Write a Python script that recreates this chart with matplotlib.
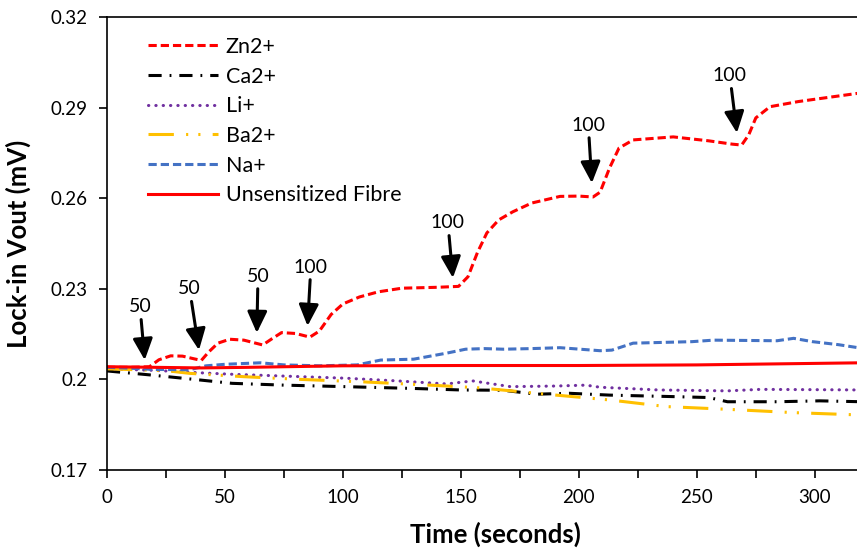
import matplotlib
matplotlib.use("Agg")
import matplotlib.pyplot as plt
from matplotlib.ticker import MultipleLocator, FuncFormatter

plt.rcParams['font.family'] = ['Lato', 'DejaVu Sans']

# ---- data ----
zn_t = [0, 10, 18, 22, 27, 32, 37, 40, 43, 47, 52, 58, 66, 70, 74, 80, 86, 90, 95, 100, 107, 115, 125, 140, 149,
        153, 157, 161, 166, 172, 180, 192, 200, 206, 209, 213, 217, 223, 240, 255, 265, 269, 272, 275, 281, 293,
        305, 318, 320]
zn_v = [0.2040, 0.2040, 0.2042, 0.2065, 0.2078, 0.2077, 0.2068, 0.2063, 0.2090, 0.2120, 0.2133, 0.2130, 0.2114,
        0.2135, 0.2155, 0.2152, 0.2140, 0.2160, 0.2215, 0.2250, 0.2273, 0.2290, 0.2302, 0.2305, 0.2308,
        0.2340, 0.2420, 0.2485, 0.2528, 0.2555, 0.2584, 0.2606, 0.2607, 0.2604, 0.2620, 0.2700, 0.2766, 0.2793,
        0.2803, 0.2790, 0.2779, 0.2776, 0.2810, 0.2866, 0.2903, 0.2920, 0.2933, 0.2947, 0.2948]

ca_t = [0, 18, 32, 53, 75, 101, 130, 150, 168, 182, 196, 213, 240, 255, 263, 284, 302, 320]
ca_v = [0.2028, 0.2015, 0.2004, 0.1987, 0.1981, 0.1976, 0.1970, 0.1965, 0.1964, 0.1951, 0.1954, 0.1948,
        0.1943, 0.1940, 0.1926, 0.1926, 0.1929, 0.1926]

li_t = [0, 20, 39, 53, 75, 101, 123, 144, 155, 171, 190, 203, 209, 234, 263, 277, 300, 320]
li_v = [0.2035, 0.2030, 0.2022, 0.2017, 0.2011, 0.2004, 0.1995, 0.1985, 0.1995, 0.1976, 0.1978, 0.1981,
        0.1974, 0.1965, 0.1962, 0.1967, 0.1966, 0.1965]

ba_t = [0, 25, 35, 58, 82, 108, 137, 158, 186, 213, 237, 263, 291, 320]
ba_v = [0.2035, 0.2029, 0.2020, 0.2009, 0.2000, 0.1992, 0.1981, 0.1972, 0.1951, 0.1932, 0.1910, 0.1901,
        0.1890, 0.1882]

na_t = [0, 10, 20, 35, 42, 50, 65, 75, 90, 106, 116, 130, 144, 152, 160, 168, 180, 192, 209, 214, 223, 248,
        257, 284, 291, 299, 310, 320]
na_v = [0.2040, 0.2037, 0.2033, 0.2032, 0.2045, 0.2050, 0.2055, 0.2048, 0.2045, 0.2048, 0.2064, 0.2067,
        0.2087, 0.2100, 0.2102, 0.2100, 0.2102, 0.2105, 0.2095, 0.2097, 0.2120, 0.2125, 0.2130, 0.2128,
        0.2136, 0.2125, 0.2115, 0.2103]

un_t = [0, 20, 40, 60, 100, 150, 200, 250, 290, 320]
un_v = [0.2042, 0.2040, 0.2038, 0.2040, 0.2045, 0.2046, 0.2046, 0.2048, 0.2052, 0.2055]

ann_labels = ["50", "50", "50", "100", "100", "100", "100"]
ann_tip_t = [16, 39, 63.5, 85, 146.6, 205.5, 267]
ann_tip_v = [0.2064, 0.2097, 0.2154, 0.2177, 0.2336, 0.2650, 0.2816]
ann_text_t = [14, 35, 64, 86.4, 144.5, 204, 264]
ann_text_v = [0.2240, 0.2300, 0.2342, 0.2372, 0.2518, 0.2842, 0.3005]

y_ticks = [0.17, 0.2, 0.23, 0.26, 0.29, 0.32]
y_tick_labels = ["0.17", "0.2", "0.23", "0.26", "0.29", "0.32"]

# ---- figure ----
fig = plt.figure(figsize=(8.57, 5.53), dpi=100)
ax = fig.add_axes([107/857, 83/553, 755/857, 453/553])

lw = 2.2
ax.plot(zn_t, zn_v, color='#FF0000', lw=lw, linestyle=(0, (2.7, 1.3)), label='Zn2+')
ax.plot(ca_t, ca_v, color='black', lw=lw, linestyle=(0, (4.3, 2.6, 0.6, 2.6)), label='Ca2+')
ax.plot(li_t, li_v, color='#7030A0', lw=lw, linestyle=(0, (0.1, 2.3)), dash_capstyle='round', label='Li+')
ax.plot(ba_t, ba_v, color='#FFC000', lw=lw, linestyle=(0, (8.3, 4, 0.7, 3.3, 0.7, 4)), label='Ba2+')
ax.plot(na_t, na_v, color='#4472C4', lw=lw, linestyle=(0, (2.7, 1.3)), label='Na+')
ax.plot(un_t, un_v, color='#FF0000', lw=lw, label='Unsensitized Fibre')

for lab, tt, tv, xt, xv in zip(ann_labels, ann_tip_t, ann_tip_v, ann_text_t, ann_text_v):
    ax.annotate(lab, xy=(tt, tv), xytext=(xt, xv), ha='center', va='center', fontsize=14,
                arrowprops=dict(arrowstyle='-|>,head_length=0.65,head_width=0.3', lw=2.2, color='black',
                                shrinkA=1, shrinkB=0, mutation_scale=20))

ax.set_xlim(0, 320)
ax.set_ylim(0.17, 0.32)
ax.set_yticks(y_ticks)
ax.set_yticklabels(y_tick_labels)
ax.xaxis.set_major_locator(MultipleLocator(25))
ax.xaxis.set_major_formatter(FuncFormatter(lambda v, p: "%d" % v if int(round(v)) % 50 == 0 else ""))
ax.tick_params(axis='both', direction='out', length=6, width=1.2, labelsize=13.5, colors='black')
ax.tick_params(axis='x', pad=8)
ax.tick_params(axis='y', pad=8)

for s in ['left', 'bottom', 'top']:
    ax.spines[s].set_linewidth(1.2)
    ax.spines[s].set_color('black')
ax.spines['right'].set_visible(False)

ax.set_xlabel('Time (seconds)', fontsize=18.5, fontweight='bold')
ax.xaxis.set_label_coords(0.515, -0.115)
ax.set_ylabel('Lock-in Vout (mV)', fontsize=18.5, fontweight='bold')
ax.yaxis.set_label_coords(-0.1, 0.5)

ax.legend(loc='upper left', bbox_to_anchor=(0.043, 0.975), frameon=False, fontsize=15.5,
          handlelength=3.25, handletextpad=0.35, labelspacing=0.45, borderaxespad=0)

fig.savefig('out.png', dpi=100)
